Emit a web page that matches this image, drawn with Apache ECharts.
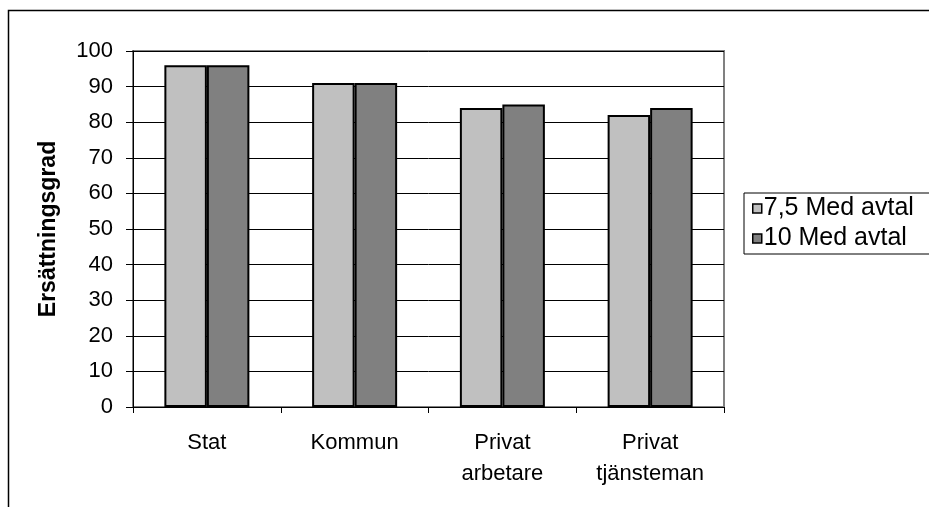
<!DOCTYPE html>
<html><head><meta charset="utf-8">
<script src="https://cdn.jsdelivr.net/npm/echarts@6/dist/echarts.min.js"></script>
<style>html,body{margin:0;padding:0;background:#fff}#c{width:929px;height:507px}</style>
</head><body><div id="c"></div>
<script>
const categories = ['Stat', 'Kommun', 'Privat\narbetare', 'Privat\ntjänsteman'];
const seriesNames = ['7,5 Med avtal', '10 Med avtal'];
const values75 = [96, 91, 84, 82];
const values10 = [96, 91, 85, 84];
const yTicks = [0, 10, 20, 30, 40, 50, 60, 70, 80, 90, 100];

const font = 'Liberation Sans, Arial, sans-serif';
const chart = echarts.init(document.getElementById('c'), null, {renderer: 'canvas'});
chart.setOption({
  backgroundColor: '#fff',
  animation: false,
  graphic: [{
    type: 'rect', shape: {x: 8.5, y: 10.5, width: 1000, height: 1000},
    style: {fill: 'none', stroke: '#000', lineWidth: 1.5}, z: -10
  }],
  grid: {left: 133, right: 205, top: 51, bottom: 100, show: true, borderColor: '#808080', borderWidth: 2, backgroundColor: 'transparent'},
  legend: {
    orient: 'vertical', left: 744, top: 193,
    padding: [3, 20, 3, 8], itemGap: 5, itemWidth: 9, itemHeight: 9,
    borderColor: '#000', borderWidth: 1,
    icon: 'rect',
    itemStyle: {borderColor: '#000', borderWidth: 1.5},
    textStyle: {fontFamily: font, fontSize: 25, color: '#000', padding: [0, 0, 0, -3]},
    data: seriesNames
  },
  xAxis: {
    type: 'category', data: categories,
    axisLine: {lineStyle: {color: '#000', width: 1}},
    axisTick: {show: true, length: 6, lineStyle: {color: '#000'}},
    axisLabel: {fontFamily: font, fontSize: 22, color: '#000', margin: 20, lineHeight: 31}
  },
  yAxis: {
    type: 'value', min: yTicks[0], max: yTicks[yTicks.length - 1], interval: 10,
    name: 'Ersättningsgrad', nameLocation: 'middle', nameGap: 73,
    nameTextStyle: {fontFamily: font, fontSize: 23, fontWeight: 'bold', color: '#000'},
    axisLine: {show: true, lineStyle: {color: '#000', width: 1}},
    axisTick: {show: true, length: 7, lineStyle: {color: '#000'}},
    axisLabel: {fontFamily: font, fontSize: 22, color: '#000', margin: 20},
    splitLine: {show: true, lineStyle: {color: '#000', width: 1}}
  },
  series: [
    {name: seriesNames[0], type: 'bar', data: values75, barWidth: 42.5, barGap: '0%',
     itemStyle: {color: '#C0C0C0', borderColor: '#000', borderWidth: 2}},
    {name: seriesNames[1], type: 'bar', data: values10, barWidth: 42.5, barGap: '0%',
     itemStyle: {color: '#808080', borderColor: '#000', borderWidth: 2}}
  ]
});
</script></body></html>
